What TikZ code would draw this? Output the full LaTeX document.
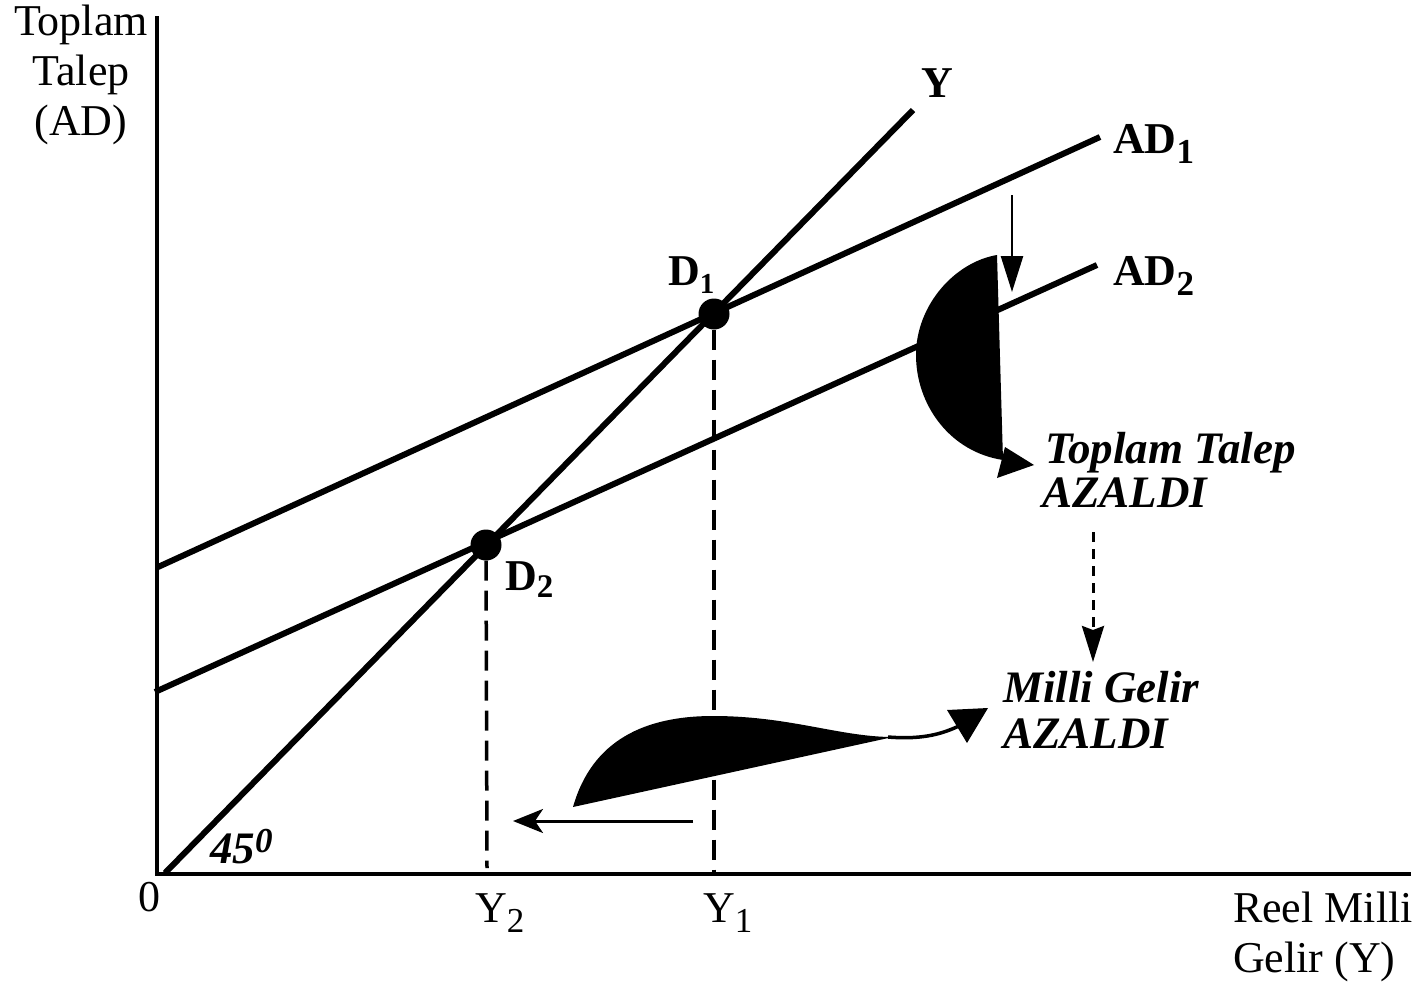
\documentclass[tikz,border=0pt]{standalone}
\usepackage{fontspec}
\setmainfont{Liberation Serif}
\usetikzlibrary{arrows.meta}
\newcommand\lsub[3]{\raisebox{-#1pt}{\fontsize{#2}{#2}\selectfont #3}}
\newcommand\lsup[3]{\raisebox{#1pt}{\fontsize{#2}{#2}\selectfont #3}}
\begin{document}
\begin{tikzpicture}[x=1pt,y=-1pt,
  curveline/.style={line width=6pt},
  axisline/.style={line width=3.5pt},
  dropline/.style={line width=3.5pt, dash pattern=on 20pt off 10pt},
  lbl/.style={inner sep=0pt, outer sep=0pt, font=\fontsize{44}{48}\selectfont},
  boldlbl/.style={lbl, font=\fontsize{44}{48}\selectfont\bfseries},
  bilbl/.style={lbl, font=\fontsize{45}{48}\selectfont\bfseries\itshape},
  dot/.style={circle, fill=black, inner sep=0pt, minimum size=31pt}]
\useasboundingbox[fill=white] (0,0) rectangle (1422,993);

% axes
\coordinate (ytop) at (157,16);
\coordinate (origin) at (157,874);
\coordinate (xend) at (1411,874);
\draw[axisline] (ytop) -- (origin) -- (xend);

% lines
\coordinate (fa) at (165,873);
\coordinate (fb) at (913,110);
\coordinate (ad1a) at (158,567);
\coordinate (ad1b) at (1100,137);
\coordinate (ad2a) at (155,692);
\coordinate (ad2b) at (1097,265);
\draw[curveline] (fa) -- (fb);
\draw[curveline] (ad1a) -- (ad1b);
\draw[curveline] (ad2a) -- (ad2b);

% equilibrium points
\node[dot] (D1) at (714,314) {};
\node[dot] (D2) at (486,545) {};
\coordinate (y1foot) at (714,872);
\coordinate (y2foot) at (487,868);
\draw[dropline] (D1) -- (y1foot);
\draw[dropline] (D2) -- (y2foot);

% shift arrow
\coordinate (sa) at (1012,195);
\coordinate (sb) at (1012,292);
\draw[line width=2.5pt, -{Triangle[length=36pt,width=22pt]}] (sa) -- (sb);

% half-moon curved arrow
\fill (997,255) .. controls (955,262) and (916,305) .. (916,355)
      .. controls (916,405) and (950,452) .. (1003,460) -- cycle;
\fill (1005,447) -- (1034,465) -- (997,478) -- cycle;

% dashed arrow between texts
\coordinate (da) at (1093,532);
\coordinate (db) at (1093,662);
\draw[line width=3pt, dash pattern=on 10pt off 7pt, -{Stealth[length=36pt,width=22pt,inset=4pt]}] (da) -- (db);

% bottom curved shape
\fill (573,807) .. controls (592,740) and (645,716) .. (713,716)
      .. controls (790,716) and (840,737) .. (893,737) -- cycle;
\draw[line width=3.5pt] (888,737) .. controls (925,740) and (945,733) .. (963,724);
\fill (947,710) -- (988,708) -- (967,743) -- cycle;

% left arrow
\coordinate (la) at (693,821);
\coordinate (lb) at (513,821);
\draw[line width=3pt, -{Stealth[length=30pt,width=24pt,inset=8pt]}] (la) -- (lb);

% labels
\node[lbl, anchor=base] (t1) at (81,35) {Toplam};
\node[lbl, anchor=base] (t2) at (81,85) {Talep};
\node[lbl, anchor=base] (t3) at (81,135) {(AD)};
\node[lbl, anchor=base west] (r1) at (1233,922) {Reel Milli};
\node[lbl, anchor=base west] (r2) at (1233,972) {Gelir (Y)};
\node[lbl, anchor=base] (zero) at (149,911) {0};
\node[lbl, anchor=base west] (y2lbl) at (475,922) {Y\lsub{10}{35}{2}};
\node[lbl, anchor=base west] (y1lbl) at (703,922) {Y\lsub{10}{35}{1}};
\node[bilbl, anchor=base west] (deg) at (210,863) {45\lsup{11}{35}{0}};
\node[boldlbl, anchor=base west] (d1lbl) at (668,285) {D\lsub{8}{29}{1}};
\node[boldlbl, anchor=base west] (d2lbl) at (505,590) {D\lsub{7}{33}{2}};
\node[boldlbl, anchor=base west] (ad1lbl) at (1113,153) {AD\lsub{10}{35}{1}};
\node[boldlbl, anchor=base west] (ad2lbl) at (1113,285) {AD\lsub{10}{35}{2}};
\node[boldlbl, anchor=base west] (ylbl) at (921,97) {Y};
\node[bilbl, anchor=base west] (tt1) at (1045,463) {Toplam Talep};
\node[bilbl, anchor=base west] (tt2) at (1042,507) {AZALDI};
\node[bilbl, anchor=base west] (mg1) at (1003,702) {Milli Gelir};
\node[bilbl, anchor=base west] (mg2) at (1003,748) {AZALDI};
\end{tikzpicture}
\end{document}
